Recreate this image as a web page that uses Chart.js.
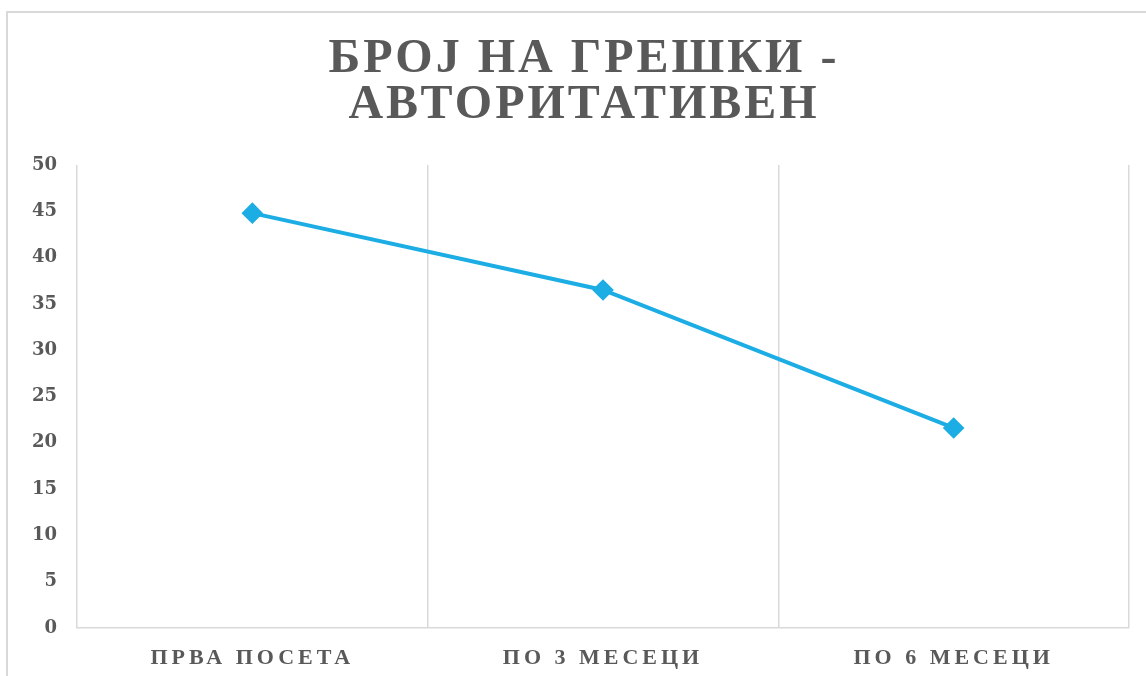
<!DOCTYPE html>
<html>
<head>
<meta charset="utf-8">
<script src="https://cdn.jsdelivr.net/npm/chart.js@4"></script>
<style>
  html, body { margin: 0; padding: 0; background: #fff; overflow: hidden; }
  #okvir { position: absolute; left: 6px; top: 11px; width: 1200px; height: 700px;
           border-top: 2px solid #d9d9d9; border-left: 2px solid #d9d9d9; }
  #grafik-kutija { position: absolute; left: 0; top: 0; width: 1146px; height: 676px; }
</style>
</head>
<body>
<div id="okvir"></div>
<div id="grafik-kutija"><canvas id="grafik" width="1146" height="676"></canvas></div>
<script>
// Податоци
const kategorii = ["ПРВА ПОСЕТА", "ПО 3 МЕСЕЦИ", "ПО 6 МЕСЕЦИ"];
const greski = [44.8, 36.5, 21.6];
const naslov = ["БРОЈ НА ГРЕШКИ -", "АВТОРИТАТИВЕН"];

const siva = '#595959';
const plava = '#1cade4';

// Растојание меѓу буквите по оска (canvas letterSpacing)
const razmakOski = { x: '4px', y: '0px' };
const razmakPlugin = {
  id: 'razmak',
  beforeLayout(chart) {
    Object.keys(razmakOski).forEach(function (id) {
      const s = chart.scales[id];
      if (!s || s._razmak) return;
      const orig = s.draw;
      s.draw = function (area) {
        const c = this.ctx;
        c.save();
        c.letterSpacing = razmakOski[id];
        orig.call(this, area);
        c.restore();
      };
      s._razmak = true;
    });
  }
};

// Наслов во две линии, со раширени букви
const naslovPlugin = {
  id: 'naslov',
  afterDraw(chart) {
    const c = chart.ctx;
    c.save();
    c.letterSpacing = '3px';
    c.fillStyle = siva;
    c.font = 'bold 48px "Liberation Serif"';
    c.textAlign = 'center';
    c.textBaseline = 'middle';
    naslov.forEach(function (red, i) {
      c.fillText(red, 584, 60 + i * 46);
    });
    c.restore();
  }
};

const ctx = document.getElementById('grafik').getContext('2d');
new Chart(ctx, {
  type: 'line',
  data: {
    labels: kategorii,
    datasets: [{
      data: greski,
      borderColor: plava,
      backgroundColor: plava,
      borderWidth: 4,
      pointStyle: 'rectRot',
      pointRadius: 8,
      pointHoverRadius: 8,
      tension: 0
    }]
  },
  options: {
    responsive: false,
    animation: false,
    layout: { padding: { left: 0, right: 17, top: 165, bottom: 0 } },
    plugins: {
      legend: { display: false },
      tooltip: { enabled: false },
      title: { display: false }
    },
    scales: {
      x: {
        offset: true,
        grid: { display: true, offset: true, color: '#d9d9d9', lineWidth: 1.5, drawTicks: false },
        border: { display: true, color: '#d9d9d9', width: 1.5 },
        ticks: {
          color: siva,
          padding: 17,
          font: { family: 'Liberation Serif', size: 22, weight: 'bold' }
        },
        afterFit(scale) { scale.height = 48; }
      },
      y: {
        min: 0,
        max: 50,
        grid: { display: false, drawTicks: false },
        border: { display: false },
        ticks: {
          stepSize: 5,
          color: siva,
          padding: 20,
          font: { family: 'DejaVu Serif', size: 18, weight: 'bold' }
        },
        afterFit(scale) { scale.width = 77; }
      }
    }
  },
  plugins: [razmakPlugin, naslovPlugin]
});
</script>
</body>
</html>
